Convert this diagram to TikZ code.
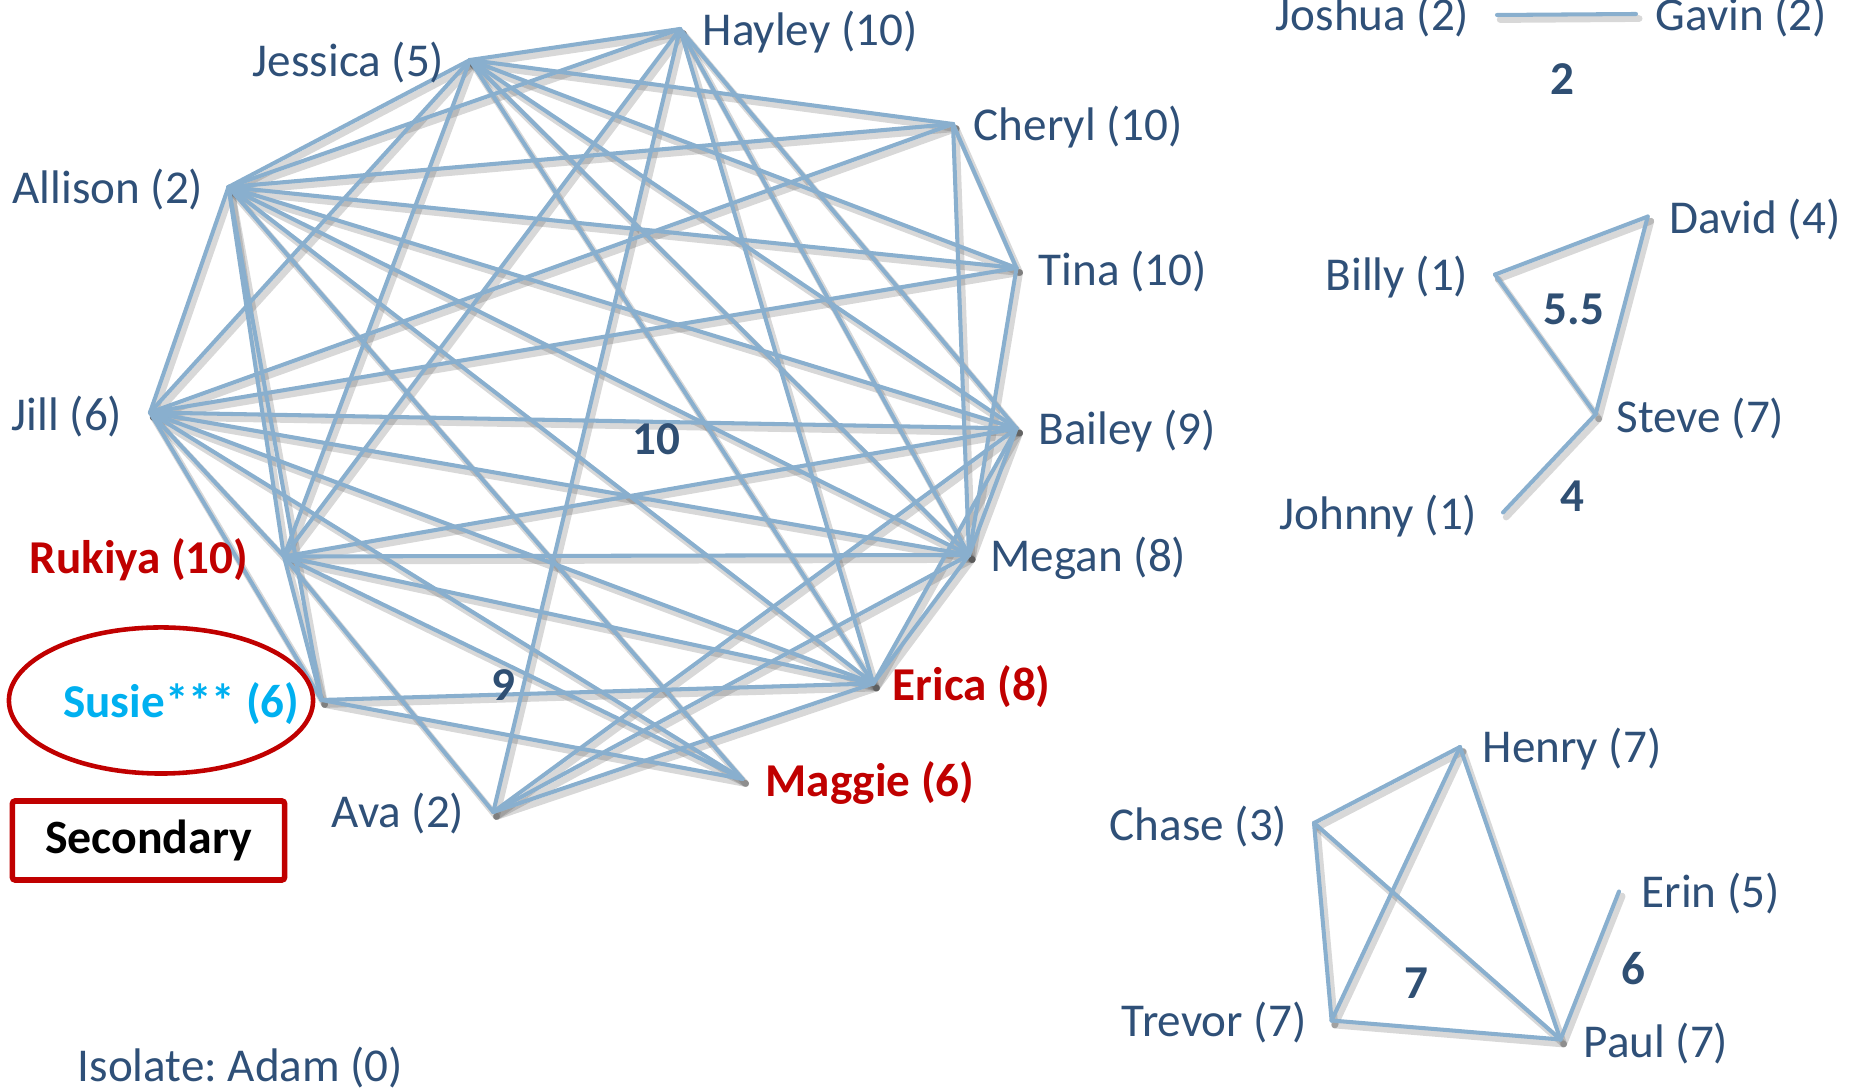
\documentclass[tikz,border=0pt]{standalone}
\usepackage{fontspec}
\setmainfont{Carlito}
\frenchspacing
\definecolor{edgec}{HTML}{89AFCE}
\definecolor{namec}{HTML}{2F5078}
\definecolor{redc}{HTML}{C00000}
\definecolor{cyanc}{HTML}{00B0F0}
\definecolor{numc}{HTML}{2F4F73}
\begin{document}
\begin{tikzpicture}[x=0.01cm,y=-0.01cm,
  lbl/.style={text=namec, font=\fontsize{13.4}{16}\selectfont, inner sep=0pt},
  hot/.style={text=redc, font=\fontsize{13.4}{16}\selectfont\bfseries, inner sep=0pt},
  susie/.style={text=cyanc, font=\fontsize{13.4}{16}\selectfont\bfseries, inner sep=0pt},
  num/.style={text=numc, font=\fontsize{13.4}{16}\selectfont\bfseries, inner sep=0pt},
  edge/.style={draw=edgec, line width=1.15pt, line cap=round},
  shadow/.style={draw=black!70, opacity=0.22, line width=1.9pt, line cap=round, transform canvas={xshift=0.9pt, yshift=-1.3pt}}]
\useasboundingbox (0,0) rectangle (1856,1089);
% main component vertices
\coordinate (H) at (680,29);
\coordinate (Je) at (470,60);
\coordinate (C) at (953,124);
\coordinate (A) at (228.5,187);
\coordinate (T) at (1016.5,268);
\coordinate (Ji) at (150,412.5);
\coordinate (B) at (1016.5,428.5);
\coordinate (R) at (284,556.5);
\coordinate (M) at (969,555);
\coordinate (S) at (321.5,700);
\coordinate (E) at (873.3,683.5);
\coordinate (Ma) at (742.5,779);
\coordinate (Av) at (493.3,812);
% small components
\coordinate (Jo) at (1497,15);
\coordinate (Ga) at (1636,14);
\coordinate (Bi) at (1495,274.6);
\coordinate (Da) at (1647.7,216.6);
\coordinate (St) at (1595.6,414.3);
\coordinate (Jn) at (1503,512.5);
\coordinate (He) at (1460,747);
\coordinate (Ch) at (1314,823);
\coordinate (Tr) at (1331.6,1020.5);
\coordinate (Pa) at (1560.5,1039.5);
\coordinate (Er) at (1619,891.5);
\def\edgelist{H/Je,H/A,H/R,H/Av,H/E,H/M,H/B,
 Je/A,Je/C,Je/T,Je/E,Je/Ji,Je/R,Je/B,Je/M,
 A/Ji,A/C,A/T,A/B,A/M,A/E,A/R,A/S,A/Ma,
 C/Ji,C/M,C/T,T/Ji,T/M,
 Ji/B,Ji/M,Ji/E,Ji/S,Ji/R,Ji/Ma,
 B/R,B/E,B/Av,B/M,
 R/M,R/E,R/Ma,R/Av,R/S,
 S/E,S/Ma,Av/E,Av/M,M/E,
 Jo/Ga,Bi/Da,Da/St,Bi/St,St/Jn,
 Ch/He,Ch/Tr,Ch/Pa,He/Tr,He/Pa,Tr/Pa,Pa/Er}
\foreach \a/\b in \edgelist { \draw[shadow] (\a) -- (\b); }
\foreach \a/\b in \edgelist { \draw[edge] (\a) -- (\b); }
% labels main
\node[lbl, anchor=west] (tH) at (702,32.5) {Hayley (10)};
\node[lbl, anchor=east] (tJe) at (445,62.5) {Jessica (5)};
\node[lbl, anchor=west] (tC) at (973,127.5) {Cheryl (10)};
\node[lbl, anchor=east] (tA) at (204,189.5) {Allison (2)};
\node[lbl, anchor=west] (tT) at (1038,271.5) {Tina (10)};
\node[lbl, anchor=east] (tJi) at (123,416.5) {Jill (6)};
\node[lbl, anchor=west] (tB) at (1038,431.5) {Bailey (9)};
\node[hot, anchor=east] (tR) at (249,559.5) {Rukiya (10)};
\node[lbl, anchor=west] (tM) at (990,558.5) {Megan (8)};
\node[susie, anchor=east] (tS) at (300,703.5) {Susie*** (6)};
\node[hot, anchor=west] (tE) at (892,686.5) {Erica (8)};
\node[hot, anchor=west] (tMa) at (765,783.5) {Maggie (6)};
\node[lbl, anchor=east] (tAv) at (465,813.5) {Ava (2)};
\node[lbl, anchor=west] (iso) at (77,1067.5) {Isolate: Adam (0)};
% labels small
\node[lbl, anchor=east] (tJo) at (1470,17) {Joshua (2)};
\node[lbl, anchor=west] (tGa) at (1655,17) {Gavin (2)};
\node[lbl, anchor=west] (tDa) at (1669,219.5) {David (4)};
\node[lbl, anchor=east] (tBi) at (1469,277.5) {Billy (1)};
\node[lbl, anchor=west] (tSt) at (1616,418.5) {Steve (7)};
\node[lbl, anchor=east] (tJn) at (1478,516.5) {Johnny (1)};
\node[lbl, anchor=west] (tHe) at (1482,749.5) {Henry (7)};
\node[lbl, anchor=east] (tCh) at (1288,826.5) {Chase (3)};
\node[lbl, anchor=west] (tEr) at (1641,893.5) {Erin (5)};
\node[lbl, anchor=east] (tTr) at (1307,1022.5) {Trevor (7)};
\node[lbl, anchor=west] (tPa) at (1583,1043.5) {Paul (7)};
% numbers
\node[num] (n10) at (656,439) {10};
\node[num] (n9) at (503,685) {9};
\node[num] (n2) at (1562,79) {2};
\node[num] (n55) at (1574,309) {5.5};
\node[num] (n4) at (1572,496) {4};
\node[num] (n7) at (1416,983) {7};
\node[num] (n6) at (1633,969) {6};
% ellipse and box
\draw[redc, line width=1.3pt] (161,700.5) ellipse [x radius=1.52cm, y radius=0.73cm];
\node[draw=redc, line width=1.6pt, minimum width=2.72cm, minimum height=0.79cm, inner sep=0pt, rounded corners=0.8pt, font=\fontsize{13.6}{16}\selectfont\bfseries] (sec) at (148.5,840.5) {Secondary};
\end{tikzpicture}
\end{document}
